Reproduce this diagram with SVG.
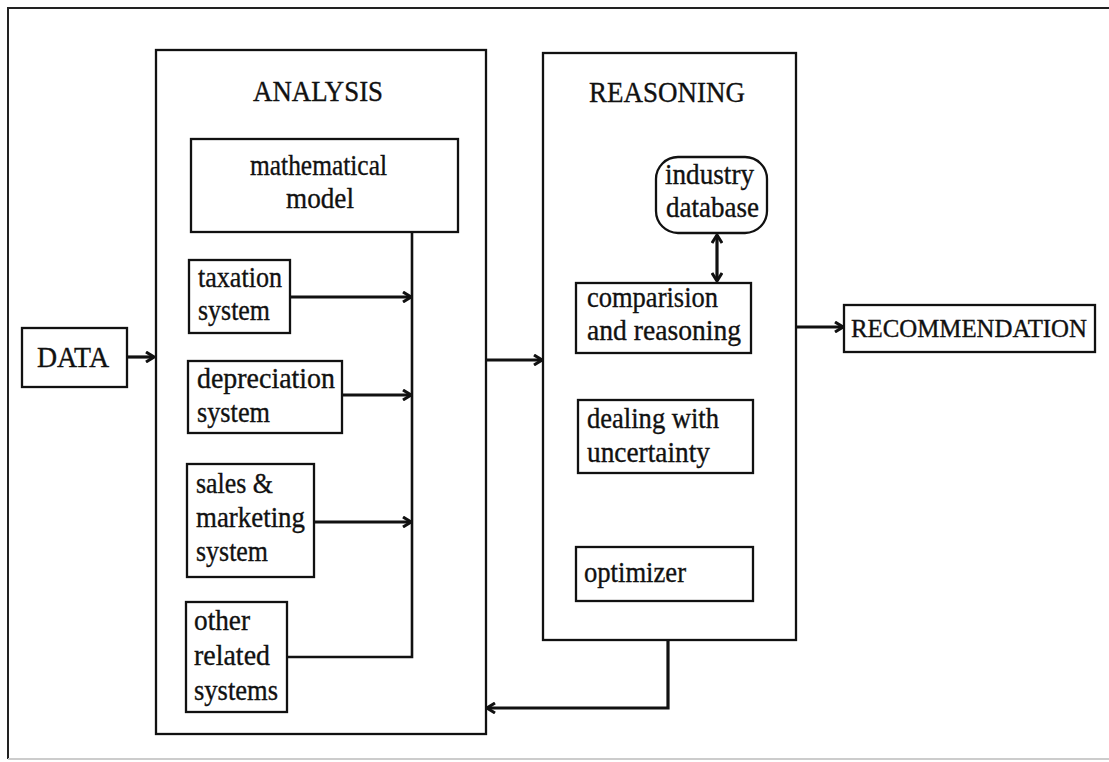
<svg xmlns="http://www.w3.org/2000/svg" width="1109" height="762" viewBox="0 0 1109 762">
<style>
text{font-family:"Liberation Serif","Times New Roman",serif;font-size:29px;fill:#111;stroke:#111;stroke-width:0.35}
.box{fill:#fff;stroke:#111;stroke-width:2.3}
.con{fill:none;stroke:#111;stroke-width:3.2}
.thin{fill:none;stroke:#111;stroke-width:2.6}
</style>
<defs>
<marker id="ah" viewBox="0 0 10 12" refX="9" refY="6" markerWidth="10" markerHeight="12" markerUnits="userSpaceOnUse" orient="auto-start-reverse">
<path d="M1,1 L9,6 L1,11" fill="none" stroke="#111" stroke-width="3"/>
</marker>
</defs>
<rect width="1109" height="762" fill="#fff"/>
<g id="frame">
<path d="M1115,8 H8 V759" fill="none" stroke="#222" stroke-width="2"/>
<path d="M8,759 H1115" fill="none" stroke="#ccc" stroke-width="2"/>
</g>
<g id="analysis">
<rect class="box" x="156" y="50" width="330" height="684"/>
<text x="253" y="101" textLength="130" lengthAdjust="spacingAndGlyphs">ANALYSIS</text>
</g>
<g id="reasoning">
<rect class="box" x="543" y="53" width="253" height="587"/>
<text x="589" y="102" textLength="156" lengthAdjust="spacingAndGlyphs">REASONING</text>
</g>
<g id="data">
<rect class="box" x="22" y="328" width="105" height="59"/>
<text x="37" y="367" textLength="72" lengthAdjust="spacingAndGlyphs">DATA</text>
</g>
<g id="math">
<rect class="box" x="191" y="139" width="267" height="93"/>
<text x="250" y="175" textLength="137" lengthAdjust="spacingAndGlyphs">mathematical</text>
<text x="286" y="208" textLength="68" lengthAdjust="spacingAndGlyphs">model</text>
</g>
<g id="tax">
<rect class="box" x="189" y="260" width="101" height="73"/>
<text x="198" y="287" textLength="84" lengthAdjust="spacingAndGlyphs">taxation</text>
<text x="198" y="320" textLength="72" lengthAdjust="spacingAndGlyphs">system</text>
</g>
<g id="dep">
<rect class="box" x="188" y="361" width="154" height="72"/>
<text x="197" y="388" textLength="138" lengthAdjust="spacingAndGlyphs">depreciation</text>
<text x="197" y="422" textLength="73" lengthAdjust="spacingAndGlyphs">system</text>
</g>
<g id="sales">
<rect class="box" x="187" y="464" width="127" height="113"/>
<text x="196" y="493" textLength="77" lengthAdjust="spacingAndGlyphs">sales &amp;</text>
<text x="196" y="527" textLength="109" lengthAdjust="spacingAndGlyphs">marketing</text>
<text x="196" y="561" textLength="72" lengthAdjust="spacingAndGlyphs">system</text>
</g>
<g id="other">
<rect class="box" x="186" y="602" width="101" height="110"/>
<text x="194" y="630" textLength="56" lengthAdjust="spacingAndGlyphs">other</text>
<text x="194" y="665" textLength="76" lengthAdjust="spacingAndGlyphs">related</text>
<text x="194" y="700" textLength="84" lengthAdjust="spacingAndGlyphs">systems</text>
</g>
<g id="industry">
<rect class="box" x="656" y="157" width="111" height="76" rx="22" ry="22"/>
<text x="665" y="184" textLength="89" lengthAdjust="spacingAndGlyphs">industry</text>
<text x="666" y="217" textLength="93" lengthAdjust="spacingAndGlyphs">database</text>
</g>
<g id="compare">
<rect class="box" x="576" y="283" width="175" height="70"/>
<text x="587" y="307" textLength="131" lengthAdjust="spacingAndGlyphs">comparision</text>
<text x="587" y="340" textLength="154" lengthAdjust="spacingAndGlyphs">and reasoning</text>
</g>
<g id="dealing">
<rect class="box" x="578" y="400" width="175" height="73"/>
<text x="587" y="428" textLength="132" lengthAdjust="spacingAndGlyphs">dealing with</text>
<text x="587" y="462" textLength="123" lengthAdjust="spacingAndGlyphs">uncertainty</text>
</g>
<g id="optimizer">
<rect class="box" x="576" y="547" width="177" height="54"/>
<text x="584" y="582" textLength="102" lengthAdjust="spacingAndGlyphs">optimizer</text>
</g>
<g id="recommendation">
<rect class="box" x="844" y="305" width="251" height="47"/>
<text x="851" y="337" style="font-size:25px" textLength="236" lengthAdjust="spacingAndGlyphs">RECOMMENDATION</text>
</g>
<g id="connectors">
<path class="con" d="M127,357 H154" marker-end="url(#ah)"/>
<path class="thin" d="M412,232 V657 H287"/>
<path class="con" d="M290,297 H411" marker-end="url(#ah)"/>
<path class="con" d="M342,395 H411" marker-end="url(#ah)"/>
<path class="con" d="M314,522 H411" marker-end="url(#ah)"/>
<path class="con" d="M486,360 H542" marker-end="url(#ah)"/>
<path class="con" d="M717,235 V281" marker-start="url(#ah)" marker-end="url(#ah)"/>
<path class="con" d="M796,327 H843" marker-end="url(#ah)"/>
<path class="con" d="M668,640 V708 H487" marker-end="url(#ah)"/>
</g>
</svg>
